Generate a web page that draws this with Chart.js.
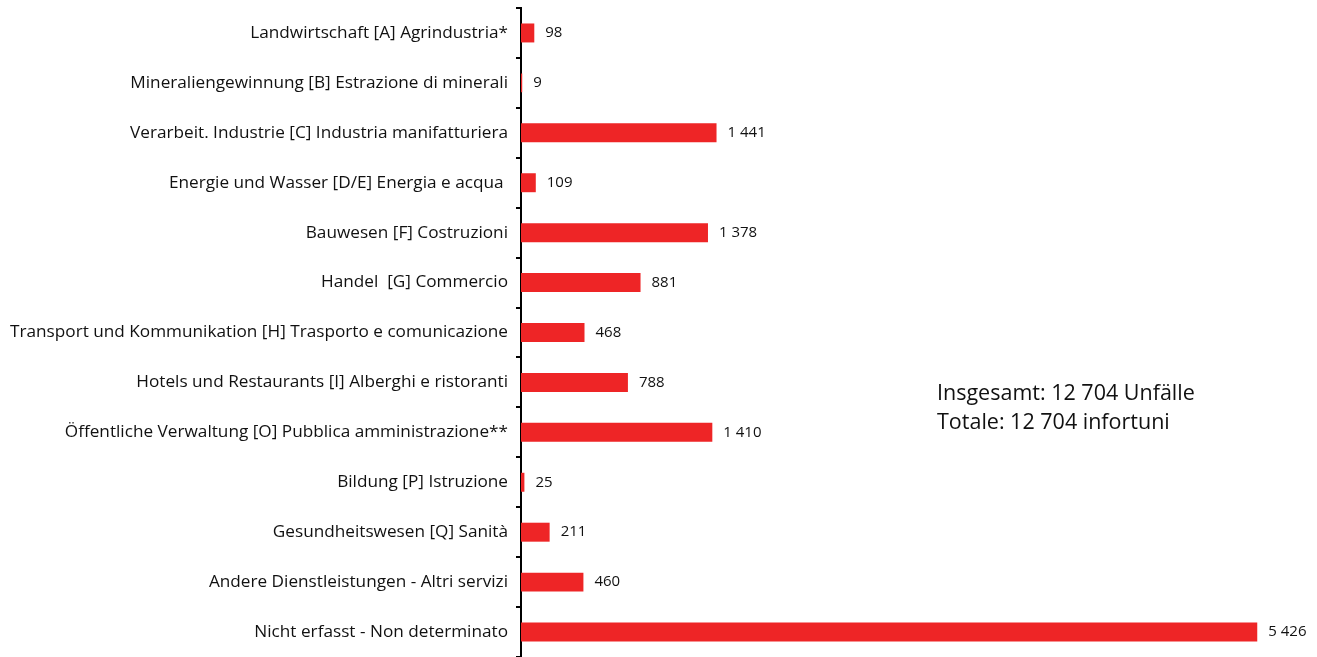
<!DOCTYPE html>
<html>
<head>
<meta charset="utf-8">
<script src="https://cdn.jsdelivr.net/npm/chart.js@4"></script>
<style>
  html, body { margin: 0; padding: 0; background: #fff; }
  #wrap { width: 1317px; height: 657px; position: relative; }
</style>
</head>
<body>
<div id="wrap"><canvas id="accChart"></canvas></div>
<script>
// ===== DATA =====
const categories = [
  'Landwirtschaft [A] Agrindustria*',
  'Mineraliengewinnung [B] Estrazione di minerali',
  'Verarbeit. Industrie [C] Industria manifatturiera',
  'Energie und Wasser [D/E] Energia e acqua ',
  'Bauwesen [F] Costruzioni',
  'Handel  [G] Commercio',
  'Transport und Kommunikation [H] Trasporto e comunicazione',
  'Hotels und Restaurants [I] Alberghi e ristoranti',
  'Öffentliche Verwaltung [O] Pubblica amministrazione**',
  'Bildung [P] Istruzione',
  'Gesundheitswesen [Q] Sanità',
  'Andere Dienstleistungen - Altri servizi',
  'Nicht erfasst - Non determinato'
];
const accidents = [98, 9, 1441, 109, 1378, 881, 468, 788, 1410, 25, 211, 460, 5426];
const totalLines = ['Insgesamt: 12 704 Unfälle', 'Totale: 12 704 infortuni'];

const FONT = '"Open Sans", "DejaVu Sans", sans-serif';

function fmt(v) {
  return String(v).replace(/\B(?=(\d{3})+(?!\d))/g, ' ');
}

// ===== VALUE LABELS + TOTAL NOTE =====
const valueLabels = {
  id: 'valueLabels',
  afterDatasetsDraw(chart) {
    const ctx = chart.ctx;
    const meta = chart.getDatasetMeta(0);
    ctx.save();
    ctx.fillStyle = '#111';
    ctx.font = '15px ' + FONT;
    ctx.textBaseline = 'middle';
    ctx.textAlign = 'left';
    meta.data.forEach((bar, i) => {
      ctx.fillText(fmt(accidents[i]), bar.x + 11, bar.y);
    });
    ctx.font = '21.5px ' + FONT;
    totalLines.forEach((t, i) => ctx.fillText(t, 937, 394 + i * 29));
    ctx.restore();
  }
};

new Chart(document.getElementById('accChart'), {
  type: 'bar',
  data: {
    labels: categories,
    datasets: [{
      data: accidents,
      backgroundColor: '#ee2526',
      barPercentage: 0.38,
      categoryPercentage: 1.0
    }]
  },
  options: {
    indexAxis: 'y',
    responsive: true,
    maintainAspectRatio: false,
    animation: false,
    layout: { padding: { top: 8, right: 9, bottom: 0, left: 0 } },
    plugins: { legend: { display: false }, tooltip: { enabled: false } },
    scales: {
      x: { display: false, min: 0, max: 5800 },
      y: {
        border: { display: true, color: '#000', width: 2 },
        grid: { display: true, drawOnChartArea: false, drawTicks: true, tickLength: 5, color: '#000', lineWidth: 2, offset: true },
        ticks: { color: '#111', font: { family: FONT, size: 17.2 }, padding: 8, autoSkip: false },
        afterFit(scale) {
          scale.width = 521;
          scale.paddingTop = 0;
          scale.paddingBottom = 0;
        }
      }
    }
  },
  plugins: [valueLabels]
});
</script>
</body>
</html>
